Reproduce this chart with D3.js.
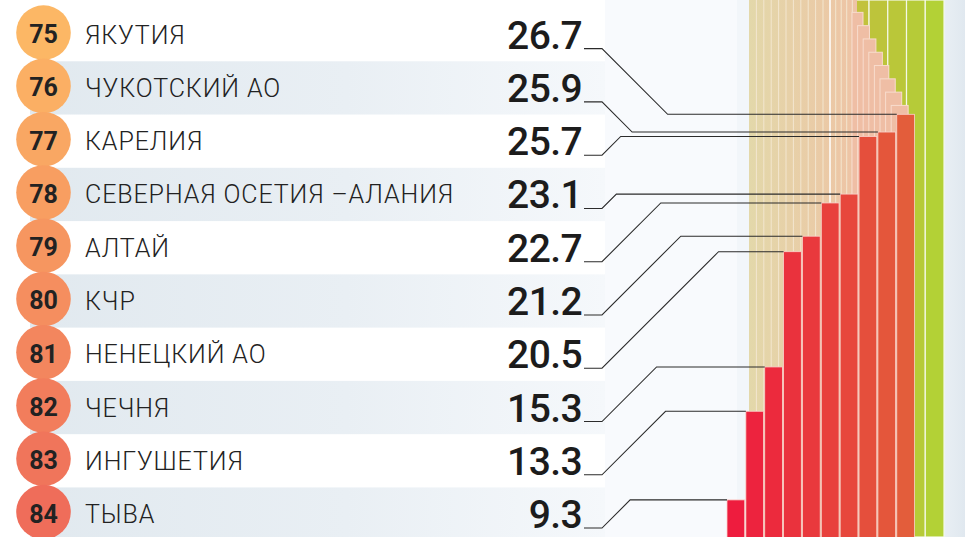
<!DOCTYPE html>
<html>
<head>
<meta charset="utf-8">
<script src="https://cdn.jsdelivr.net/npm/d3@7"></script>
<style>
  body { margin: 0; background: #fff; }
  svg { display: block; font-family: Roboto, "DejaVu Sans", sans-serif; }
</style>
</head>
<body>
<div id="chart"></div>
<script>
// ranks 75..84, top to bottom
const ranks = [75, 76, 77, 78, 79, 80, 81, 82, 83, 84];
const regions = ["ЯКУТИЯ", "ЧУКОТСКИЙ АО", "КАРЕЛИЯ", "СЕВЕРНАЯ ОСЕТИЯ –АЛАНИЯ", "АЛТАЙ",
                 "КЧР", "НЕНЕЦКИЙ АО", "ЧЕЧНЯ", "ИНГУШЕТИЯ", "ТЫВА"];
const values = [26.7, 25.9, 25.7, 23.1, 22.7, 21.2, 20.5, 15.3, 13.3, 9.3];

// the higher ranked bars peeking out behind (67..74)
const upperRanks = [67, 68, 69, 70, 71, 72, 73, 74];
const upperValues = [31.3, 30.7, 30.1, 29.5, 28.9, 28.3, 27.7, 27.1];

// far background columns (green, top of the ranking)
const greenCols = ["#c2c23c", "#bdc43b", "#bac739", "#b6cb38", "#b3d136"];

var width = 965
var height = 537

var svg = d3.select("#chart").append("svg")
    .attr("width", width)
    .attr("height", height)

const defs = svg.append("defs");

const grad = (id, stops) => {
  const g = defs.append("linearGradient").attr("id", id)
      .attr("x1", 0).attr("x2", 1).attr("y1", 0).attr("y2", 0);
  stops.forEach(s => g.append("stop").attr("offset", s[0]).attr("stop-color", s[1]));
};
grad("band", [[0, "#e1e9ef"], [0.55, "#e9eff4"], [1, "#f5f8fb"]]);
grad("fan", [[0, "#e3d8aa"], [0.75, "#ebc9a6"], [1, "#eec3a5"]]);
grad("edge", [[0, "#e9eff4"], [1, "#e0e8ef"]]);

// scales
const yRow = d3.scaleBand().domain(ranks).range([8, 8 + 53.27 * 10]);
const rowC = r => yRow(r) + yRow.bandwidth() / 2;

const xBar = d3.scaleBand().domain(ranks.slice().reverse())
    .range([727, 914.5]).paddingInner(0.06);
const yVal = d3.scaleLinear().domain([0, 26.7]).range([706, 114.3]);

const xStair = d3.scaleBand().domain(upperRanks).range([852, 852 + 5.6 * 8]);
const xGreen = d3.scaleBand().domain(d3.range(greenCols.length)).range([850.3, 944]);

const circleColor = d3.scaleLinear().domain([75, 84]).range(["#fcb765", "#ef6d5a"]);
const barColor = d3.scaleLinear().domain([84, 75]).range(["#ee1c3e", "#e35d3b"]);

// right panel background
svg.append("rect").attr("x", 605).attr("y", 0).attr("width", 360).attr("height", height)
    .attr("fill", "#f8fafd");
svg.append("rect").attr("x", 737).attr("y", 0).attr("width", 14).attr("height", height)
    .attr("fill", "#f2f6fa");
svg.append("rect").attr("x", 944).attr("y", 0).attr("width", 21).attr("height", height)
    .attr("fill", "url(#edge)");

// row bands
svg.selectAll(".band").data(ranks.filter((d, i) => i % 2 == 1))
  .enter().append("rect")
    .attr("class", "band")
    .attr("x", 30)
    .attr("y", d => yRow(d))
    .attr("width", 575)
    .attr("height", yRow.bandwidth())
    .attr("fill", "url(#band)");

// green columns
svg.selectAll(".green").data(greenCols)
  .enter().append("rect")
    .attr("class", "green")
    .attr("x", (d, i) => xGreen(i))
    .attr("y", 0)
    .attr("width", xGreen.bandwidth())
    .attr("height", height)
    .attr("fill", d => d)
    .attr("stroke", "#f4f8e8")
    .attr("stroke-width", 1.2);

// beige fan of the middle of the ranking
svg.append("rect").attr("x", 749).attr("y", 0).attr("width", 108).attr("height", height)
    .attr("fill", "url(#fan)");
const fanLines = d3.range(756.4, 830, 7.4).concat([835.7, 841.2, 846.7, 852.3]);
svg.selectAll(".fanline").data(fanLines)
  .enter().append("line")
    .attr("x1", d => d).attr("x2", d => d)
    .attr("y1", 0).attr("y2", height)
    .attr("stroke", "#f3e6cf")
    .attr("stroke-width", 1);
svg.append("line").attr("x1", 830).attr("x2", 830).attr("y1", 0).attr("y2", height)
    .attr("stroke", "#fff").attr("stroke-width", 1.5);

// stair of higher bars
svg.selectAll(".stair").data(upperRanks)
  .enter().append("rect")
    .attr("class", "stair")
    .attr("x", d => xStair(d))
    .attr("y", (d, i) => yVal(upperValues[i]))
    .attr("width", (d, i) => 11 + i * 0.85)
    .attr("height", (d, i) => 706 - yVal(upperValues[i]))
    .attr("fill", "#efbea5")
    .attr("stroke", "#f8dccd")
    .attr("stroke-width", 1);

// red bars
const g = svg.append("g");
g.selectAll(".bar").data(ranks)
  .enter().append("rect")
    .attr("class", "bar")
    .attr("x", d => xBar(d))
    .attr("y", (d, i) => yVal(values[i]))
    .attr("width", xBar.bandwidth())
    .attr("height", (d, i) => 706 - yVal(values[i]))
    .attr("fill", d => barColor(d))
    .attr("stroke", "#f9d3cb")
    .attr("stroke-width", 0.8);

// leader lines
const stubX0 = 584, stubX1 = 602;
const leader = (d, i) => {
  const y0 = rowC(d) + 14;
  const y1 = yVal(values[i]);
  const x2 = stubX1 + Math.abs(y0 - y1);
  return `M${stubX0},${y0}H${stubX1}L${x2},${y1}H${xBar(d)}`;
};
svg.selectAll(".leader").data(ranks)
  .enter().append("path")
    .attr("class", "leader")
    .attr("d", leader)
    .attr("fill", "none")
    .attr("stroke", "#2b2b2b")
    .attr("stroke-width", 1.1);

// circles with rank numbers
svg.selectAll(".dot").data(ranks)
  .enter().append("circle")
    .attr("class", "dot")
    .attr("cx", 43.5)
    .attr("cy", d => rowC(d) - 2)
    .attr("r", 27.3)
    .attr("fill", d => circleColor(d));

svg.selectAll(".rank").data(ranks)
  .enter().append("text")
    .attr("class", "rank")
    .attr("x", 43.5)
    .attr("y", d => rowC(d) + 8.5)
    .attr("text-anchor", "middle")
    .attr("font-size", 25)
    .attr("font-weight", 700)
    .attr("fill", "#222")
    .text(d => d);

svg.selectAll(".name").data(ranks)
  .enter().append("text")
    .attr("class", "name")
    .attr("x", 85)
    .attr("y", d => rowC(d) + 9)
    .attr("font-size", 25)
    .attr("font-weight", 300)
    .attr("letter-spacing", 0.9)
    .attr("fill", "#222")
    .text((d, i) => regions[i]);

svg.selectAll(".value").data(ranks)
  .enter().append("text")
    .attr("class", "value")
    .attr("x", 582)
    .attr("y", d => rowC(d) + 14)
    .attr("text-anchor", "end")
    .attr("font-size", 39)
    .attr("font-weight", 500)
    .attr("letter-spacing", -0.6)
    .attr("fill", "#1c1c1c")
    .text((d, i) => d3.format(".1f")(values[i]));
</script>
</body>
</html>
